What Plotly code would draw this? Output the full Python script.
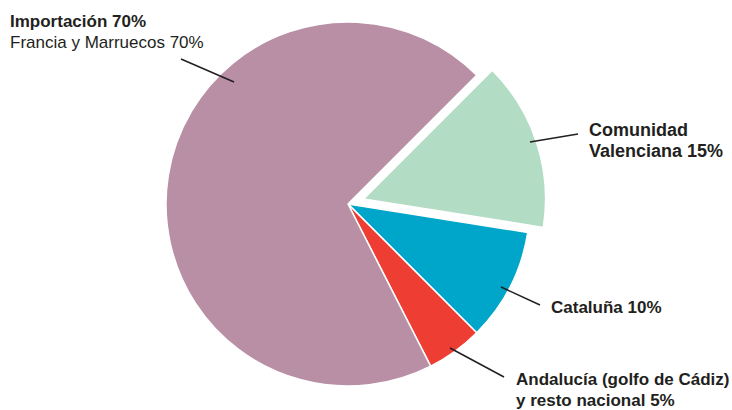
import plotly.graph_objects as go

# ---- data ----
labels = ["Comunidad Valenciana", "Cataluña", "Andalucía (golfo de Cádiz) y resto nacional", "Importación (Francia y Marruecos)"]
values = [15, 10, 5, 70]
colors = ["#B2DCC3", "#00A5CA", "#EE3E33", "#B98FA6"]
pulls = [0.09, 0, 0, 0]

W, H = 732, 410

def px(x):
    return x / W

def py(y):
    return 1 - y / H

# pie geometry (pixels)
cx, cy, r = 348, 204, 182
half = r * (1 + max(pulls))

fig = go.Figure(go.Pie(
    labels=labels,
    values=values,
    sort=False,
    direction="clockwise",
    rotation=45,
    pull=pulls,
    marker=dict(colors=colors, line=dict(color="white", width=1.5)),
    textinfo="none",
    hoverinfo="skip",
    showlegend=False,
    domain=dict(x=[px(cx - half), px(cx + half)], y=[py(cy + half), py(cy - half)]),
))

FONT = "Liberation Sans, Arial, sans-serif"
TXT = "#231F20"

texts = [
    ("<b>Importación 70%</b>", 9, 21, 17),
    ("Francia y Marruecos 70%", 9, 42.5, 17),
    ("<b>Comunidad</b>", 588, 130, 18),
    ("<b>Valenciana 15%</b>", 588, 150.5, 18),
    ("<b>Cataluña 10%</b>", 550, 307.5, 17),
    ("<b>Andalucía (golfo de Cádiz)</b>", 515, 379, 17),
    ("<b>y resto nacional 5%</b>", 515, 400, 17),
]
for t, x, y, s in texts:
    fig.add_annotation(text=t, x=px(x), y=py(y), xref="paper", yref="paper",
                       xanchor="left", yanchor="middle", showarrow=False,
                       borderpad=0, font=dict(family=FONT, size=s, color=TXT))

lines = [
    (181, 59, 234, 82),
    (530, 142, 578, 134),
    (501, 287, 540, 305),
    (450, 348, 504, 377),
]
for x0, y0, x1, y1 in lines:
    fig.add_shape(type="line", xref="paper", yref="paper",
                  x0=px(x0), y0=py(y0), x1=px(x1), y1=py(y1),
                  line=dict(color="#231F20", width=1.5))

fig.update_layout(width=W, height=H, margin=dict(l=0, r=0, t=0, b=0),
                  paper_bgcolor="white", plot_bgcolor="white")

fig.write_html("out.html", config={"displayModeBar": False},
               post_script="document.body.style.margin='0';document.body.style.overflow='hidden';")
